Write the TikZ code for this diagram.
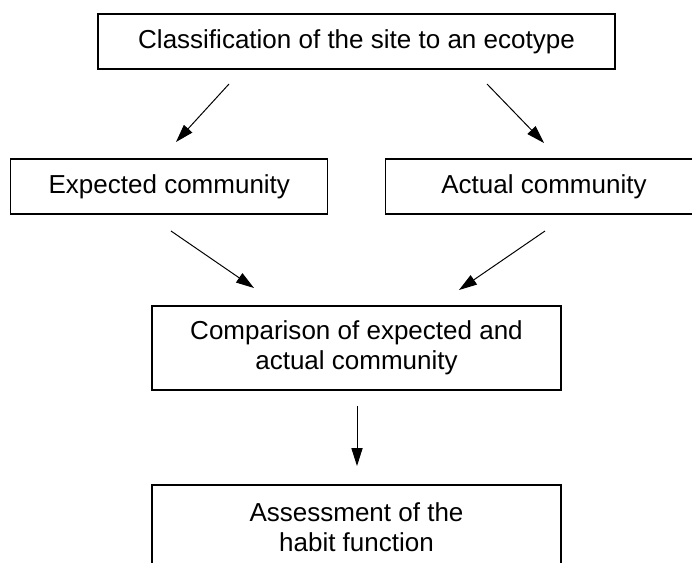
\documentclass[tikz,border=0pt]{standalone}
\usepackage{fontspec}
\setmainfont{Liberation Sans}
\usetikzlibrary{arrows.meta,positioning}
\tikzstyle{block} = [draw, line width=0.9pt, minimum height=1.375cm, inner sep=0pt, align=center, font=\fontsize{18.5}{21}\selectfont]
\tikzstyle{flow} = [line width=0.7pt, -{Triangle[length=4.5mm,width=2.8mm]}]

\begin{document}
\begin{tikzpicture}
\useasboundingbox (0,0) rectangle (17.3,14.05);
% boxes
\node (class) at (8.9125,13.0125) [block, minimum width=12.925cm] {Classification of the site to an ecotype};
\node (expect) at (4.233,9.3875) [block, minimum width=7.925cm] {Expected community};
\node (actual) at (13.6,9.3875) [block, minimum width=7.925cm] {Actual community};
\node (compare) at (8.9125,5.35) [block, minimum width=10.225cm, minimum height=2.1cm] {Comparison of expected and\\actual community};
\node (assess) at (8.9125,0.875) [block, minimum width=10.225cm, minimum height=2.1cm] {Assessment of the\\habit function};
% arrow ends
\coordinate (c1) at (5.725,11.95);
\coordinate (e1) at (4.4,10.5);
\coordinate (c2) at (12.175,11.95);
\coordinate (a2) at (13.6,10.475);
\coordinate (e3) at (4.275,8.275);
\coordinate (m3) at (6.35,6.85);
\coordinate (a4) at (13.625,8.275);
\coordinate (m4) at (11.475,6.8);
\coordinate (m5) at (8.925,3.9);
\coordinate (s5) at (8.925,2.4);
\draw [flow] (c1)--(e1);
\draw [flow] (c2)--(a2);
\draw [flow] (e3)--(m3);
\draw [flow] (a4)--(m4);
\draw [flow] (m5)--(s5);
\end{tikzpicture}
\end{document}
